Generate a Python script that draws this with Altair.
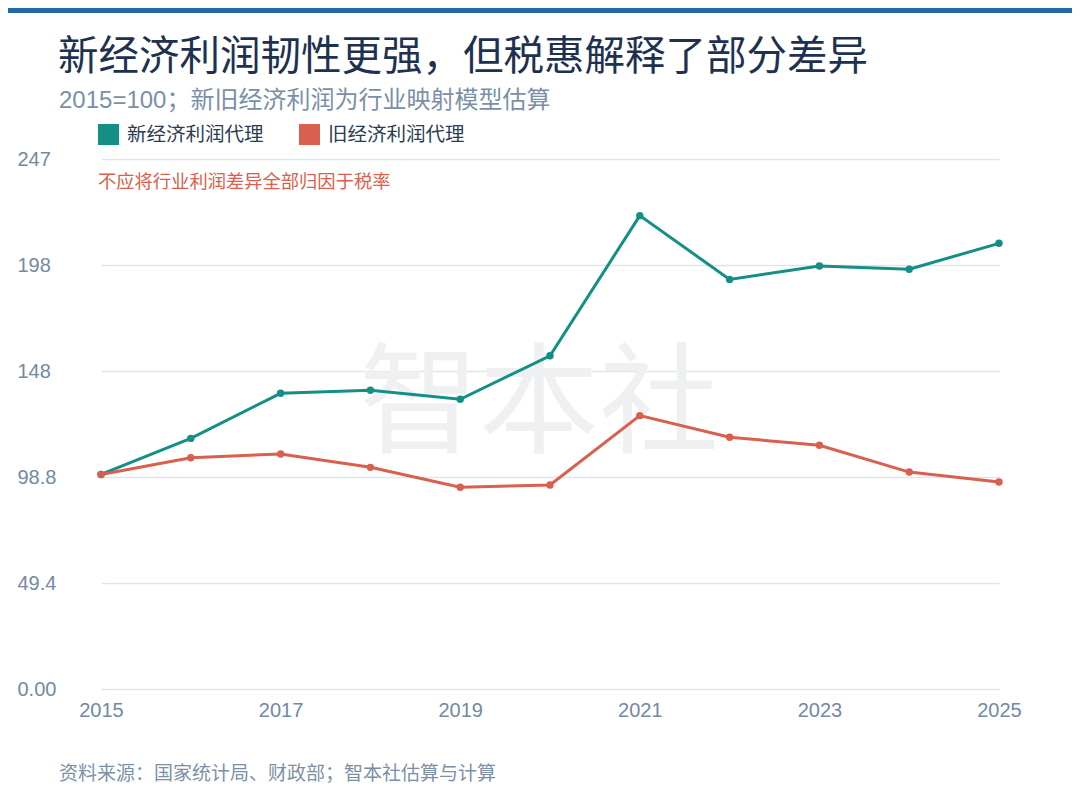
import altair as alt
import pandas as pd

# ---- data ----
years = [2015, 2016, 2017, 2018, 2019, 2020, 2021, 2022, 2023, 2024, 2025]
new_econ = [100.0, 116.8, 137.8, 139.2, 135.0, 155.3, 220.6, 190.9, 197.1, 195.6, 207.7]
old_econ = [100.0, 107.8, 109.5, 103.3, 94.0, 95.1, 127.4, 117.3, 113.6, 101.1, 96.5]
series_names = ["新经济利润代理", "旧经济利润代理"]
series_colors = ["#138f86", "#d95f4e"]
y_ticks = [0, 49.4, 98.8, 148.2, 197.6, 247]
x_ticks = [2015, 2017, 2019, 2021, 2023, 2025]

title_text = "新经济利润韧性更强，但税惠解释了部分差异"
subtitle_text = "2015=100；新旧经济利润为行业映射模型估算"
note_text = "不应将行业利润差异全部归因于税率"
source_text = "资料来源：国家统计局、财政部；智本社估算与计算"
watermark_text = "智本社"

rows = []
for y, v in zip(years, new_econ):
    rows.append({"year": y, "series": series_names[0], "value": v})
for y, v in zip(years, old_econ):
    rows.append({"year": y, "series": series_names[1], "value": v})
df = pd.DataFrame(rows)

FONT = "Liberation Sans, Noto Sans CJK SC, sans-serif"
CJK = "Noto Sans CJK SC, sans-serif"

W, H = 902, 530

x_enc = alt.X(
    "year:Q",
    scale=alt.Scale(domain=[2015, 2025], range=[3, 901], nice=False, zero=False),
    axis=alt.Axis(values=x_ticks, format="d", title=None, grid=False, domain=False,
                  ticks=False, tickSize=0, labelPadding=21, labelBaseline="middle",
                  labelFlush=False, labelFontSize=20, labelColor="#7489a3", labelFont=FONT),
)
y_enc = alt.Y(
    "value:Q",
    scale=alt.Scale(domain=[0, 247], nice=False, zero=True),
    axis=alt.Axis(values=y_ticks, labelExpr="datum.value == 0 ? '0.00' : format(datum.value, '.3r')",
                  title=None, grid=True, gridColor="#dfe5ec",
                  gridWidth=1.5, domain=False, ticks=False, tickSize=0, labelAlign="left",
                  labelPadding=81, labelFontSize=20, labelColor="#7489a3", labelFont=FONT),
)
color_scale = alt.Scale(domain=series_names, range=series_colors)

base = alt.Chart(df)

lines = base.mark_line(strokeWidth=3).encode(
    x=x_enc, y=y_enc,
    color=alt.Color("series:N", scale=color_scale, legend=None),
)
points = base.mark_circle(size=55, opacity=1).encode(
    x=x_enc, y=y_enc,
    color=alt.Color(
        "series:N", scale=color_scale, sort=series_names,
        legend=alt.Legend(orient="none", legendX=0, legendY=-35, direction="horizontal",
                          title=None, symbolType="square", symbolSize=441,
                          symbolStrokeWidth=0, symbolOpacity=1, labelFontSize=19.5,
                          labelColor="#2b3b52", labelFont=CJK, labelOffset=8,
                          columnPadding=35, padding=0),
    ),
)

def txt(text, x, y, size, color, align="left", font=CJK):
    return alt.Chart(pd.DataFrame({"t": [text]})).mark_text(
        align=align, baseline="middle", fontSize=size, color=color, font=font
    ).encode(text="t:N", x=alt.value(x), y=alt.value(y))

watermark = txt(watermark_text, 441, 249, 120, "#eef0f2", align="center")
title = txt(title_text, -40, -101, 40.5, "#1e3150")
subtitle = txt(subtitle_text, -39, -58, 24, "#7b8fa8", font=FONT)
note = txt(note_text, 0, 24, 18.3, "#d9604c")
source = txt(source_text, -39, 615, 19, "#7d8fa6")

topbar = alt.Chart(pd.DataFrame({"a": [0]})).mark_rect(color="#2268a3").encode(
    x=alt.value(-90), x2=alt.value(W + 72), y=alt.value(-151), y2=alt.value(-146)
)

chart = alt.layer(
    watermark, lines, points, title, subtitle, note, source, topbar
).resolve_legend(color="independent").properties(
    width=W, height=H,
    padding={"left": 90, "top": 151, "right": 72, "bottom": 112},
    autosize=alt.AutoSizeParams(type="none"),
    background="white",
).configure_view(stroke=None)

chart.save("out.html", embed_options={"renderer": "svg", "actions": False})
